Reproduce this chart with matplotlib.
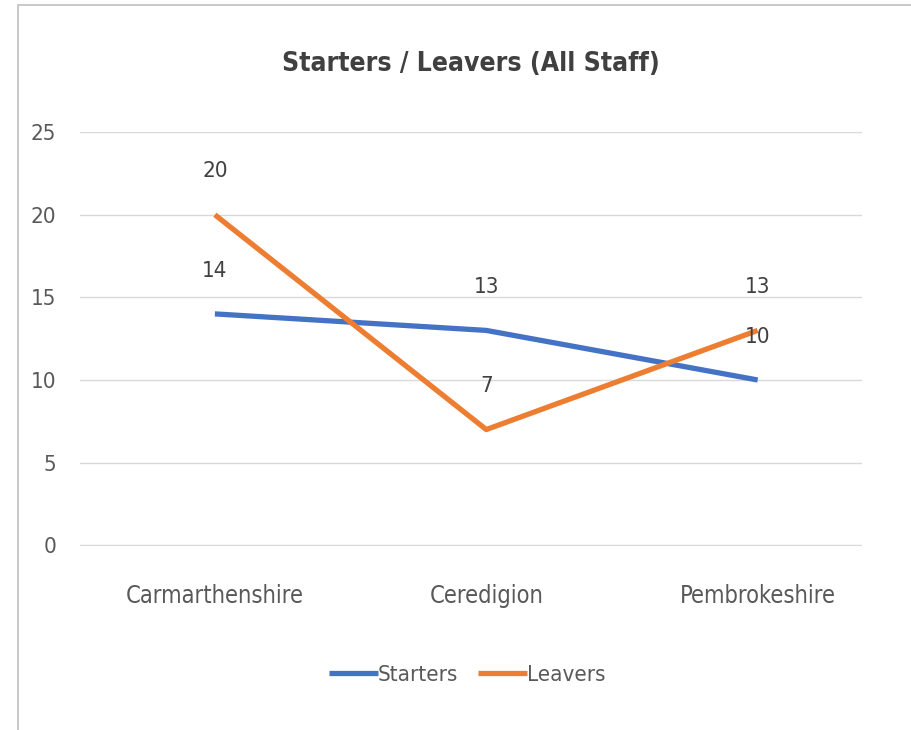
import matplotlib.pyplot as plt
from matplotlib.patches import Rectangle

regions = ['Carmarthenshire', 'Ceredigion', 'Pembrokeshire']
starters = [14, 13, 10]
leavers = [20, 7, 13]

plt.rcParams['font.family'] = ['DejaVu Sans']
plt.rcParams['font.stretch'] = 'condensed'

fig = plt.figure(figsize=(9.11, 7.3), dpi=100)
ax = fig.add_axes([0.0878, 0.252, 0.858, 0.567])

x = list(range(len(regions)))
ax.plot(x, starters, color='#4472C4', lw=3.8, label='Starters', solid_capstyle='butt')
ax.plot(x, leavers, color='#ED7D31', lw=3.8, label='Leavers', solid_capstyle='butt')

for xi, v in zip(x, starters):
    ax.annotate(str(v), (xi, v), xytext=(0, 24), textcoords='offset points',
                ha='center', va='bottom', fontsize=16, color='#404040')
for xi, v in zip(x, leavers):
    ax.annotate(str(v), (xi, v), xytext=(0, 24), textcoords='offset points',
                ha='center', va='bottom', fontsize=16, color='#404040')

ax.set_xlim(-0.497, 2.383)
ax.set_ylim(-0.05, 25)
ax.set_yticks(range(0, 26, 5))
ax.set_xticks(x)
ax.set_xticklabels(regions)
ax.grid(axis='y', color='#d9d9d9', lw=1)
ax.set_axisbelow(True)
for s in ax.spines.values():
    s.set_visible(False)
ax.tick_params(axis='both', length=0, colors='#595959', labelsize=16)
ax.tick_params(axis='x', pad=27, labelsize=17)
ax.tick_params(axis='y', pad=17)

ax.set_title('Starters / Leavers (All Staff)', fontsize=19, fontweight='bold',
             color='#404040', pad=44)

fig.legend(loc='center', bbox_to_anchor=(0.513, 0.075), ncol=2, frameon=False,
           fontsize=16, handlelength=2.2, handletextpad=0.0, columnspacing=0.9,
           labelcolor='#595959')

fig.patches.append(Rectangle((0.02, -0.01), 0.99, 1.003, transform=fig.transFigure,
                             fill=False, edgecolor='#bfbfbf', lw=1.2))

plt.savefig('out.png', dpi=100)
